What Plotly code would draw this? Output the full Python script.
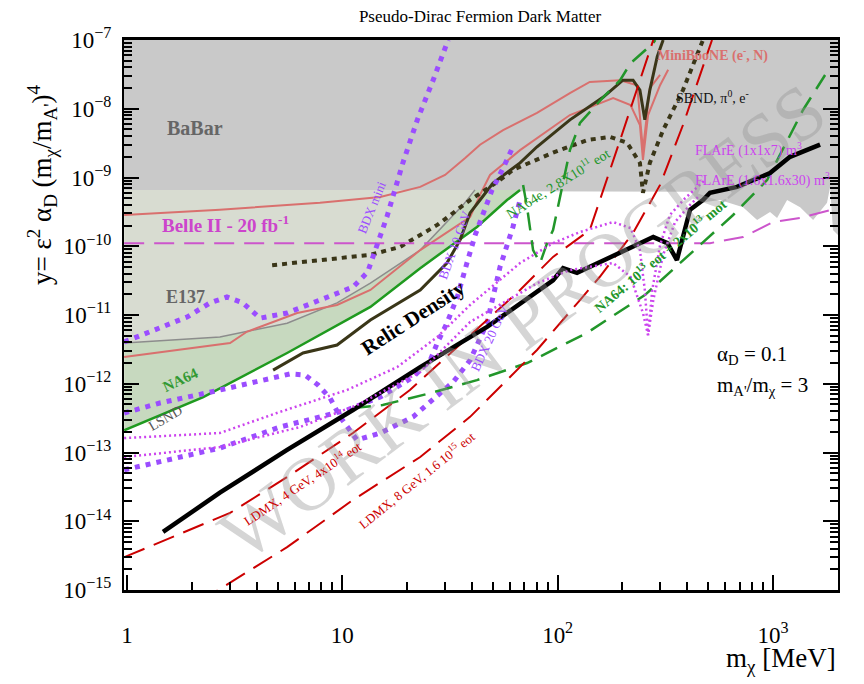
import plotly.graph_objects as go

# ---------------- data ----------------
# BaBar exclusion (grey), lower boundary
babar_m = [0.9, 412, 459, 568, 726, 844, 969, 1045, 1163, 1337, 1536, 1783, 1842, 1900, 2005, 2300]
babar_y = [6.6e-10, 6.2e-10, 4.3e-10, 4.7e-10, 3.7e-10, 2.41e-10, 3.15e-10, 2.58e-10, 4.7e-10,
           3.7e-10, 2.41e-10, 4.3e-10, 7.3e-10, 1.72e-10, 1.46e-10, 1.46e-10]
babar_top = 2e-7

# E137 boundary
e137_m = [0.97, 2.70, 5.54, 9.45, 13.5, 23.0, 36.4, 41.3]
e137_y = [3.9e-12, 4.8e-12, 7.6e-12, 1.5e-11, 2.9e-11, 8.8e-11, 4.0e-10, 6.6e-10]
# NA64 existing limit
na64_m = [0.97, 2.26, 5.54, 13.5, 23.0, 42.2, 58.2, 66.9]
na64_y = [2.1e-13, 6.4e-13, 2.8e-12, 1.31e-11, 4.8e-11, 1.91e-10, 4.7e-10, 6.6e-10]

# MiniBooNE (e-, N) curves
mb1_m = [0.97, 2.70, 7.87, 15.0, 23.0, 30.0, 37.2, 43.6, 55.8, 80.2, 114, 141, 195, 234, 249, 268, 299]
mb1_y = [2.85e-10, 3.4e-10, 4.3e-10, 5.2e-10, 7.3e-10, 1.09e-9, 1.92e-9, 3.0e-9, 4.9e-9, 8.7e-9,
         1.69e-8, 2.45e-8, 2.6e-8, 2.2e-8, 2.5e-9, 2.0e-8, 3.1e-8]
mb2_m = [0.97, 3.01, 3.60, 6.17, 9.45, 13.5, 23.0, 39.2, 43.6, 48.5, 66.9, 114, 181, 218, 241, 249,
         263, 299, 326]
mb2_y = [2.45e-12, 3.9e-12, 5.7e-12, 1.07e-11, 1.40e-11, 2.31e-11, 8.8e-11, 2.66e-10, 5.6e-10,
         1.09e-9, 2.5e-9, 8.1e-9, 1.43e-8, 1.13e-8, 5.8e-9, 1.8e-9, 8.1e-9, 2.2e-8, 3.7e-8]

# SBND curves
sbnd_e_m = [4.77, 6.57, 9.45, 13.5, 23.0, 30.6, 35.2, 39.2, 43.6, 50.1, 66.9, 80.2, 114, 163, 201,
            224, 241, 254, 268, 290, 309]
sbnd_e_y = [1.58e-12, 2.8e-12, 3.66e-12, 8.45e-12, 2.31e-11, 5.7e-11, 1.23e-10, 3.05e-10, 4.7e-10,
            8.3e-10, 1.63e-9, 2.8e-9, 6.9e-9, 1.48e-8, 2.6e-8, 2.6e-8, 1.87e-8, 6.9e-9, 1.87e-8,
            5.7e-8, 1e-7]
sbnd_pi_m = [4.72, 7.87, 13.5, 18.5, 27.6, 39.2, 54.0, 62.0, 95.2, 137, 175, 210, 241, 249, 268,
             309, 382, 459, 473]
sbnd_pi_y = [5.3e-11, 6.3e-11, 7.5e-11, 9.75e-11, 2.04e-10, 4.7e-10, 9.2e-10, 1.29e-9, 2.3e-9,
             3.5e-9, 3.9e-9, 3.2e-9, 1.63e-9, 6.0e-10, 1.63e-9, 4.9e-9, 1.87e-8, 7.9e-8, 1e-7]

# Relic density target
relic_m = [1.47, 2.70, 5.54, 11.2, 23.0, 47.0, 95.2, 106, 123, 157, 181, 278, 323, 358, 412, 473,
           510, 681, 969, 1200, 1655]
relic_y = [7.0e-15, 2.6e-14, 1.09e-13, 4.15e-13, 1.75e-12, 6.7e-12, 3.2e-11, 4.8e-11, 4.1e-11,
           5.9e-11, 7.0e-11, 1.36e-10, 1.11e-10, 6.3e-11, 3.4e-10, 4.7e-10, 6.0e-10, 7.3e-10,
           1.16e-9, 2.0e-9, 3.0e-9]

# LDMX projections
ldmx4_m = [0.97, 1.58, 3.01, 5.54, 11.2, 20.6, 40.5, 66.9, 95.2, 141, 195, 249, 278]
ldmx4_y = [3.0e-15, 5.7e-15, 1.32e-14, 4.4e-14, 1.92e-13, 8.1e-13, 5.5e-12, 2.31e-11, 7.0e-11,
           1.72e-10, 3.5e-9, 3.7e-8, 1e-7]
ldmx8_m = [2.16, 2.65, 5.54, 11.2, 23.0, 39.2, 80.2, 127, 157, 224, 299, 382, 459, 521]
ldmx8_y = [6.7e-16, 1e-15, 4.2e-15, 2.04e-14, 8.6e-14, 3.3e-13, 3.1e-12, 1.65e-11, 3.6e-11,
           1.56e-10, 7.8e-10, 5.8e-9, 3.1e-8, 1e-7]

# NA64 projections
na64p_m = [11.2, 15.4, 25.6, 42.2, 72.1, 137, 254, 473, 653, 939, 1379, 1746]
na64p_y = [4.45e-13, 4.9e-13, 7.3e-13, 1.13e-12, 2.0e-12, 5.5e-12, 1.95e-11, 1.15e-10, 2.85e-10,
           9.2e-10, 9.6e-9, 3.1e-8]
na64e_m = [69.1, 72.1, 76.9, 82.9, 89.3, 95.2, 102.6, 114, 127, 163, 195, 218, 278, 284]
na64e_y = [7.8e-10, 3.7e-10, 8.8e-11, 5.7e-11, 1.11e-10, 1.72e-10, 5.2e-10, 2.5e-9, 6.2e-9,
           1.48e-8, 2.6e-8, 4.6e-8, 9.0e-8, 1e-7]

# Belle II 20 fb-1
belle_m = [0.97, 459, 510, 726, 1001, 1337, 2005]
belle_y = [1.11e-10, 1.11e-10, 1.11e-10, 1.36e-10, 2.25e-10, 2.58e-10, 3.6e-10]

# BDX curves
bdxmini_m = [0.97, 1.32, 1.90, 2.43, 2.91, 3.45, 3.85, 4.15, 5.54, 7.87, 11.2, 13.1, 14.5, 16.1,
             19.1, 22.3, 26.4, 31.0]
bdxmini_y = [4.05e-12, 6.05e-12, 9.35e-12, 1.5e-11, 1.83e-11, 1.5e-11, 1.07e-11, 9.0e-12,
             1.07e-11, 1.65e-11, 2.55e-11, 4.2e-11, 1.11e-10, 2.66e-10, 1.63e-9, 6.9e-9, 2.6e-8, 1e-7]
bdx20_m = [0.97, 1.42, 2.70, 4.15, 5.72, 6.71, 7.71, 8.77, 9.76, 11.7, 15.0, 21.3, 32.7, 39.2, 42.2,
           47.0, 50.1, 54.0, 62.0, 66.9]
bdx20_y = [3.75e-13, 5.25e-13, 8.1e-13, 1.13e-12, 1.39e-12, 1.34e-12, 9.6e-13, 6.2e-13, 3.3e-13,
           1.52e-13, 1.92e-13, 3.3e-13, 1.06e-12, 2.2e-12, 3.66e-12, 7.65e-12, 1.83e-11, 5.0e-11,
           1.91e-10, 4.7e-10]
bdx10_m = [0.97, 1.58, 2.70, 5.14, 10.5, 15.0, 21.3, 25.6, 27.6, 30.6, 34.2, 37.9, 41.4, 45.8, 49.6,
           55.8, 62.0]
bdx10_y = [5.6e-14, 7.8e-14, 1.16e-13, 2.35e-13, 4.15e-13, 6.4e-13, 1.25e-12, 2.2e-12, 3.9e-12,
           7.65e-12, 1.83e-11, 5.7e-11, 1.46e-10, 3.4e-10, 6.6e-10, 1.37e-9, 2.8e-9]

# FLArE curves
flare1_m = [0.97, 2.70, 5.14, 10.5, 18.0, 27.6, 39.2, 66.9, 95.2, 127, 181, 218, 241, 254, 263, 275,
            299, 332, 391, 459, 484]
flare1_y = [1.62e-13, 1.92e-13, 3.9e-13, 8.1e-13, 1.75e-12, 4.8e-12, 1.4e-11, 5.7e-11, 1.11e-10,
            1.61e-10, 2.25e-10, 1.84e-10, 8.8e-11, 2.31e-11, 5.1e-12, 2.31e-11, 1.04e-10, 2.85e-10,
            5.0e-10, 7.8e-10, 9.2e-10]
flare2_m = [0.97, 2.70, 6.36, 11.7, 23.0, 39.2, 80.2, 114, 181, 218, 249, 263, 278, 309, 351, 412, 459]
flare2_y = [8.6e-14, 1.2e-13, 2.35e-13, 4.9e-13, 1.48e-12, 7.9e-12, 2.9e-11, 4.5e-11, 5.7e-11,
            3.6e-11, 1.07e-11, 5.1e-12, 1.65e-11, 7.5e-11, 2.25e-10, 4.0e-10, 5.6e-10]

x_tick_vals = [1, 10, 100, 1000]
x_tick_text = ["1", "10", "10<sup>2</sup>", "10<sup>3</sup>"]
y_tick_vals = [10.0 ** e for e in range(-15, -6)]
y_tick_text = ["10<sup>\u2212%d</sup>" % (-e) for e in range(-15, -6)]

# ---------------- figure ----------------
SERIF = "Liberation Serif, Times New Roman, serif"
fig = go.Figure()


def poly(xs, ys, color):
    fig.add_trace(go.Scatter(x=xs, y=ys, mode="lines", fill="toself", fillcolor=color,
                             line=dict(width=0), hoverinfo="skip", showlegend=False))


def curve(xs, ys, color, width, dash="solid"):
    fig.add_trace(go.Scatter(x=xs, y=ys, mode="lines",
                             line=dict(color=color, width=width, dash=dash),
                             hoverinfo="skip", showlegend=False))


# shaded regions
poly(babar_m + [babar_m[-1], babar_m[0]], babar_y + [babar_top, babar_top], "#c9c9c9")
poly(e137_m + [e137_m[0]], e137_y + [e137_y[-1]], "#d8dcd1")
poly(na64_m + e137_m[::-1], na64_y + e137_y[::-1], "#c7d9bf")

# existing limits / projections
curve(e137_m, e137_y, "#8c8c8c", 1.5)
curve(mb1_m, mb1_y, "#d9706e", 2)
curve(mb2_m, mb2_y, "#d9706e", 2)
curve(na64_m, na64_y, "#1f9a1f", 2.5)
curve(sbnd_pi_m, sbnd_pi_y, "#3a3618", 4, "5px,5px")
curve(sbnd_e_m, sbnd_e_y, "#3a3618", 3)
curve(belle_m, belle_y, "#cc55cc", 2, "20px,10px")
curve(bdxmini_m, bdxmini_y, "#9b4dff", 5, "5px,6px")
curve(bdx20_m, bdx20_y, "#9b4dff", 5, "5px,6px")
curve(bdx10_m, bdx10_y, "#9b4dff", 5, "5px,6px")
curve(na64p_m, na64p_y, "#22962a", 2.5, "18px,10px")
curve(na64e_m, na64e_y, "#22962a", 2.5, "18px,10px")
curve(ldmx4_m, ldmx4_y, "#cc0000", 2, "22px,10px")
curve(ldmx8_m, ldmx8_y, "#cc0000", 2, "22px,10px")
curve(relic_m, relic_y, "#000000", 4.5)
curve(flare1_m, flare1_y, "#cc44ee", 2.5, "2px,3px")
curve(flare2_m, flare2_y, "#cc44ee", 2.5, "2px,3px")

L, R, T, B = 124, 26, 40, 94
W, H = 864, 684
PW, PH = W - L - R, H - T - B


def px(xp):
    return (xp - L) / PW


def py(yp):
    return (H - B - yp) / PH


annots = [
    dict(text="WORK IN PROGRESS", x=px(522), y=py(322), textangle=-37,
         font=dict(family=SERIF, size=76, color="rgba(150,150,150,0.40)")),
    dict(text="<b>BaBar</b>", x=px(195), y=py(128), font=dict(family=SERIF, size=20, color="#666666")),
    dict(text="<b>Belle II - 20 fb<sup>-1</sup></b>", x=px(225), y=py(224),
         font=dict(family=SERIF, size=19, color="#cc44cc")),
    dict(text="<b>E137</b>", x=px(185), y=py(297), font=dict(family=SERIF, size=18, color="#666666")),
    dict(text="<b>NA64</b>", x=px(180), y=py(380), textangle=-25,
         font=dict(family=SERIF, size=15, color="#339933")),
    dict(text="LSND", x=px(165), y=py(418), textangle=-30,
         font=dict(family=SERIF, size=14, color="#555555")),
    dict(text="<b>Relic Density</b>", x=px(413), y=py(318), textangle=-33,
         font=dict(family=SERIF, size=21, color="#000000")),
    dict(text="BDX mini", x=px(372), y=py(208), textangle=-68,
         font=dict(family=SERIF, size=13, color="#9b4dff")),
    dict(text="BDX 10 GeV", x=px(455), y=py(245), textangle=-70,
         font=dict(family=SERIF, size=13, color="#9b4dff")),
    dict(text="BDX 20 GeV", x=px(490), y=py(338), textangle=-65,
         font=dict(family=SERIF, size=13, color="#9b4dff")),
    dict(text="NA64e, 2.8X10<sup>11</sup> eot", x=px(557), y=py(183), textangle=-32,
         font=dict(family=SERIF, size=14, color="#22962a")),
    dict(text="<b>NA64: 10<sup>13</sup> eot + 2x10<sup>13</sup> mot</b>", x=px(660), y=py(255),
         textangle=-40, font=dict(family=SERIF, size=14, color="#22962a")),
    dict(text="LDMX, 4 GeV, 4x10<sup>14</sup> eot", x=px(302), y=py(483), textangle=-34,
         font=dict(family=SERIF, size=13, color="#cc0000")),
    dict(text="LDMX, 8 GeV, 1.6 10<sup>15</sup> eot", x=px(416), y=py(480), textangle=-39,
         font=dict(family=SERIF, size=13, color="#cc0000")),
    dict(text="<b>MiniBooNE (e<sup>-</sup>, N)</b>", x=px(712), y=py(55),
         font=dict(family=SERIF, size=14, color="#d9706e")),
    dict(text="SBND, \u03c0<sup>0</sup>, e<sup>-</sup>", x=px(712), y=py(97),
         font=dict(family=SERIF, size=14, color="#111111")),
    dict(text="FLArE (1x1x7) m<sup>3</sup>", x=px(693), y=py(150), xanchor="left",
         font=dict(family=SERIF, size=14, color="#cc44ee")),
    dict(text="FLArE (1.6x1.6x30) m<sup>3</sup>", x=px(693), y=py(180), xanchor="left",
         font=dict(family=SERIF, size=14, color="#cc44ee")),
    dict(text="\u03b1<sub>D</sub> = 0.1", x=px(715), y=py(355), xanchor="left",
         font=dict(family=SERIF, size=21, color="#000000")),
    dict(text="m<sub>A'</sub>/m<sub>\u03c7</sub> = 3", x=px(715), y=py(386), xanchor="left",
         font=dict(family=SERIF, size=21, color="#000000")),
    dict(text="y= \u03b5<sup>2</sup> \u03b1<sub>D</sub> (m<sub>\u03c7</sub>/m<sub>A'</sub>)<sup>4</sup>",
         x=px(42), y=py(185), textangle=-90, font=dict(family=SERIF, size=27, color="#000000")),
    dict(text="m<sub>\u03c7</sub> [MeV]", x=1.0, y=py(660), xanchor="right",
         font=dict(family=SERIF, size=27, color="#000000")),
]
for a in annots:
    base = dict(xref="paper", yref="paper", showarrow=False, xanchor="center", yanchor="middle")
    base.update(a)
    fig.add_annotation(**base)

x_minor = [k * 10 ** d for d in range(0, 4) for k in range(2, 10) if k * 10 ** d < 2000]
y_minor = [k * 10.0 ** d for d in range(-15, -7) for k in range(2, 10)]

fig.update_xaxes(type="log", range=[-0.014, 3.302], tickmode="array", tickvals=x_tick_vals,
                 ticktext=x_tick_text, ticks="inside", ticklen=15, tickwidth=2, tickcolor="black",
                 showline=True, linecolor="black", linewidth=3, mirror=True, showgrid=False,
                 zeroline=False, ticklabelstandoff=22,
                 tickfont=dict(family=SERIF, size=23, color="black"),
                 minor=dict(tickvals=x_minor, ticks="inside", ticklen=8, tickwidth=1.5,
                            tickcolor="black", showgrid=False))
fig.update_yaxes(type="log", range=[-15, -7], tickmode="array", tickvals=y_tick_vals,
                 ticktext=y_tick_text, ticks="inside", ticklen=15, tickwidth=2, tickcolor="black",
                 showline=True, linecolor="black", linewidth=2, mirror="ticks", showgrid=False,
                 zeroline=False, ticklabelstandoff=6,
                 tickfont=dict(family=SERIF, size=23, color="black"),
                 minor=dict(tickvals=y_minor, ticks="inside", ticklen=8, tickwidth=1.5,
                            tickcolor="black", showgrid=False))

fig.update_layout(
    width=W, height=H,
    margin=dict(l=L, r=R, t=T, b=B),
    paper_bgcolor="white", plot_bgcolor="white",
    showlegend=False,
    title=dict(text="Pseudo-Dirac Fermion Dark Matter", x=480 / W, xanchor="center",
               y=1 - 16 / H, yanchor="middle", font=dict(family=SERIF, size=17, color="black")),
)

fig.write_html("out.html", config={"displayModeBar": False},
               post_script="document.body.style.margin='0';document.body.style.overflow='hidden';")
